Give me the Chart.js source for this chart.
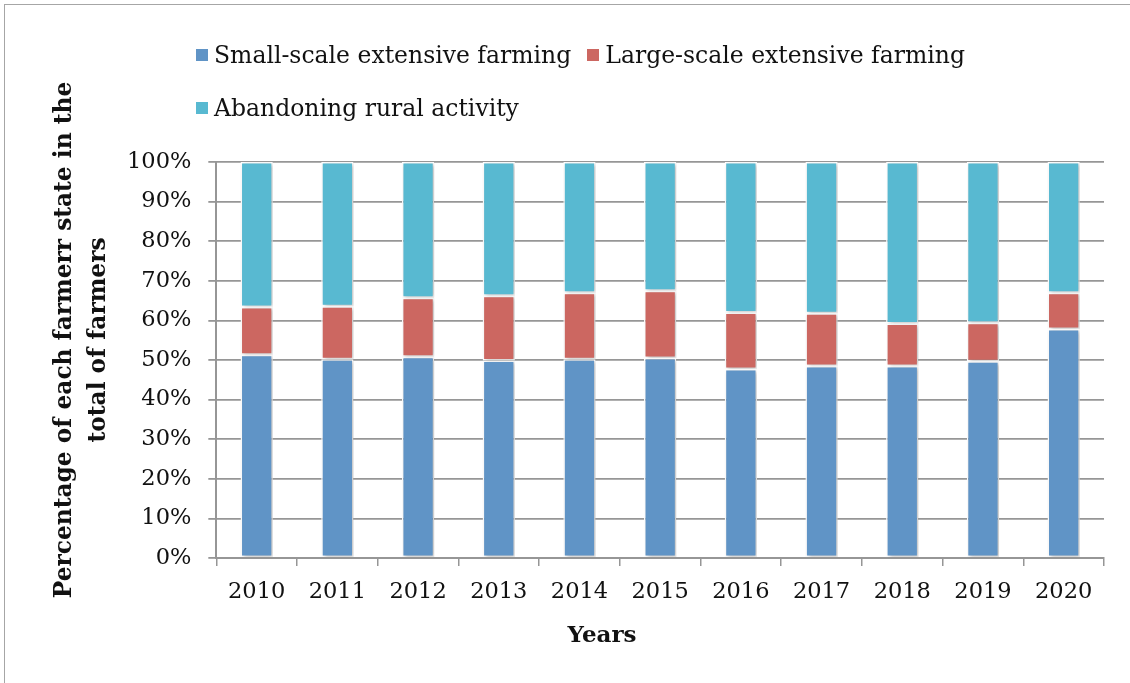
<!DOCTYPE html>
<html>
<head>
<meta charset="utf-8">
<script src="https://cdn.jsdelivr.net/npm/chart.js@4"></script>
<style>
  html, body { margin: 0; padding: 0; background: #fff; }
  #wrap { position: relative; width: 1130px; height: 683px; overflow: hidden;
          font-family: "DejaVu Serif", serif; color: #111; }
  #frame { position: absolute; left: 4px; top: 4px; width: 1200px; height: 800px;
           border: 1.5px solid #a6a6a6; box-sizing: border-box; }
  #legend { position: absolute; left: 196px; top: 28px; width: 800px;
            display: flex; flex-wrap: wrap; font-size: 23.5px; }
  #legend .item { display: flex; align-items: center; height: 53px; margin-right: 16px; }
  #legend .box { width: 12px; height: 12px; margin-right: 6px; }
  .titre { position: absolute; font-weight: bold; white-space: nowrap; text-align: center;
           transform: translate(-50%, -50%); }
  #titreY { left: 80px; top: 340px; font-size: 23.3px; line-height: 34px;
            transform: translate(-50%, -50%) rotate(-90deg); }
  #titreX { left: 602px; top: 633px; font-size: 23px; }
</style>
</head>
<body>
<div id="wrap">
  <div id="frame"></div>
  <canvas id="myChart" width="1130" height="683"></canvas>
  <div id="legend"></div>
  <div class="titre" id="titreY"></div>
  <div class="titre" id="titreX"></div>
</div>
<script>
// données
const annees = ["2010", "2011", "2012", "2013", "2014", "2015", "2016", "2017", "2018", "2019", "2020"];
const petiteEchelle = [51.3, 50.2, 50.8, 49.9, 50.2, 50.5, 47.7, 48.5, 48.5, 49.7, 57.8];
const grandeEchelle = [12.1, 13.4, 14.9, 16.3, 16.8, 17.0, 14.3, 13.3, 10.7, 9.7, 9.2];
const abandon = [36.6, 36.4, 34.3, 33.8, 33.0, 32.5, 38.0, 38.2, 40.8, 40.6, 33.0];
const noms = ["Small-scale extensive farming", "Large-scale extensive farming", "Abandoning rural activity"];
const couleurs = ["#6094c6", "#cc6761", "#58b9d1"];
const titreAxeY = ["Percentage of each farmerr state in the", "total of farmers"];
const titreAxeX = "Years";

const police = "'DejaVu Serif', serif";
const gris = "#969696";

// petite ombre sous les barres, comme dans Excel
const ombre = {
    id: 'ombre',
    beforeDatasetsDraw(chart) {
        const c = chart.ctx;
        c.save();
        c.shadowColor = 'rgba(0,0,0,0.25)';
        c.shadowBlur = 4;
        c.shadowOffsetX = 2;
        c.shadowOffsetY = 1;
    },
    afterDatasetsDraw(chart) {
        chart.ctx.restore();
    }
};

const ctx = document.getElementById('myChart').getContext('2d');
const myChart = new Chart(ctx, {
    type: 'bar',
    data: {
        labels: annees,
        datasets: [petiteEchelle, grandeEchelle, abandon].map((d, i) => ({
            label: noms[i],
            data: d,
            backgroundColor: couleurs[i],
            borderColor: '#ffffff',
            borderWidth: 1.5,
            borderSkipped: false,
            barPercentage: 0.4,
            categoryPercentage: 1
        }))
    },
    options: {
        responsive: false,
        animation: false,
        layout: { padding: { left: 110, top: 162, right: 26, bottom: 64 } },
        plugins: {
            legend: { display: false },
            tooltip: { enabled: false }
        },
        scales: {
            x: {
                stacked: true,
                grid: {
                    offset: true,
                    drawOnChartArea: false,
                    drawTicks: true,
                    tickLength: 8,
                    color: gris,
                    lineWidth: 1.5
                },
                border: { color: gris, width: 2 },
                ticks: { color: '#111', padding: 13, font: { family: police, size: 22.5 } }
            },
            y: {
                stacked: true,
                min: 0,
                max: 100,
                grid: { color: gris, lineWidth: 1.8, tickLength: 8 },
                border: { color: gris, width: 2 },
                ticks: {
                    stepSize: 10,
                    color: '#111',
                    padding: 17,
                    font: { family: police, size: 22.5 },
                    callback: v => v + '%'
                }
            }
        }
    },
    plugins: [ombre]
});

// titres des axes (placés comme dans le graphique Excel, décalés du centre)
document.getElementById('titreY').innerHTML = titreAxeY.join('<br>');
document.getElementById('titreX').textContent = titreAxeX;

// légende HTML (deux lignes, alignée à gauche)
const leg = document.getElementById('legend');
myChart.data.datasets.forEach(ds => {
    const it = document.createElement('div');
    it.className = 'item';
    it.innerHTML = '<span class="box" style="background:' + ds.backgroundColor + '"></span><span>' + ds.label + '</span>';
    leg.appendChild(it);
});
</script>
</body>
</html>
